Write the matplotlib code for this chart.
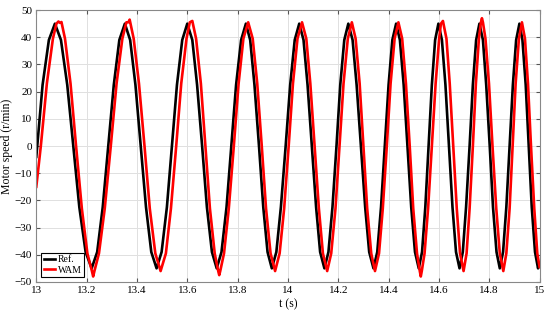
import matplotlib
matplotlib.use("Agg")
import matplotlib.pyplot as plt

# reference speed (black)
ref_t = [13.000, 13.025, 13.050, 13.074,
         13.098, 13.123, 13.147, 13.171, 13.196, 13.220,
         13.242, 13.264, 13.286, 13.308, 13.330, 13.352,
         13.373, 13.394, 13.415, 13.436, 13.457, 13.478,
         13.498, 13.519, 13.539, 13.559, 13.580, 13.600,
         13.620, 13.639, 13.659, 13.678, 13.698, 13.717,
         13.736, 13.756, 13.775, 13.794, 13.814, 13.833,
         13.850, 13.867, 13.885, 13.902, 13.919, 13.936,
         13.954, 13.972, 13.991, 14.009, 14.027, 14.045,
         14.062, 14.078, 14.095, 14.112, 14.128, 14.145,
         14.161, 14.177, 14.193, 14.208, 14.224, 14.240,
         14.257, 14.273, 14.290, 14.307, 14.323, 14.340,
         14.355, 14.370, 14.385, 14.400, 14.415, 14.430,
         14.445, 14.460, 14.475, 14.490, 14.505, 14.520,
         14.533, 14.546, 14.559, 14.572, 14.585, 14.598,
         14.612, 14.626, 14.640, 14.654, 14.668, 14.682,
         14.695, 14.708, 14.722, 14.735, 14.748, 14.761,
         14.775, 14.788, 14.802, 14.815, 14.829, 14.842,
         14.855, 14.868, 14.881, 14.894, 14.907, 14.920,
         14.932, 14.945, 14.957, 14.969, 14.982, 14.994, 15.000]
ref_v = [-4, 22.5, 39, 45,
         39, 22.5, 0, -22.5, -39, -45,
         -39, -22.5, 0, 22.5, 39, 45,
         39, 22.5, 0, -22.5, -39, -45,
         -39, -22.5, 0, 22.5, 39, 45,
         39, 22.5, 0, -22.5, -39, -45,
         -39, -22.5, 0, 22.5, 39, 45,
         39, 22.5, 0, -22.5, -39, -45,
         -39, -22.5, 0, 22.5, 39, 45,
         39, 22.5, 0, -22.5, -39, -45,
         -39, -22.5, 0, 22.5, 39, 45,
         39, 22.5, 0, -22.5, -39, -45,
         -39, -22.5, 0, 22.5, 39, 45,
         39, 22.5, 0, -22.5, -39, -45,
         -39, -22.5, 0, 22.5, 39, 45,
         39, 22.5, 0, -22.5, -39, -45,
         -39, -22.5, 0, 22.5, 39, 45,
         39, 22.5, 0, -22.5, -39, -45,
         -39, -22.5, 0, 22.5, 39, 45,
         39, 22.5, 0, -22.5, -39, -45, -43.5]

# WAM measured speed (red)
wam_t = [13.000, 13.018, 13.042, 13.066, 13.080, 13.088, 13.094, 13.100,
         13.114, 13.136, 13.158, 13.181, 13.203, 13.221, 13.226, 13.231,
         13.249, 13.272, 13.296, 13.319, 13.342, 13.358, 13.366, 13.371,
         13.387, 13.408, 13.430, 13.451, 13.473, 13.494,
         13.515, 13.535, 13.556, 13.576, 13.597, 13.610, 13.620,
         13.635, 13.654, 13.672, 13.690, 13.709, 13.723, 13.727, 13.731,
         13.746, 13.765, 13.785, 13.804, 13.823, 13.842,
         13.860, 13.878, 13.896, 13.913, 13.931, 13.949,
         13.967, 13.985, 14.003, 14.020, 14.038, 14.056,
         14.073, 14.089, 14.106, 14.123, 14.139, 14.156,
         14.172, 14.189, 14.205, 14.221, 14.238, 14.254,
         14.269, 14.285, 14.300, 14.315, 14.331, 14.346,
         14.362, 14.377, 14.393, 14.408, 14.424, 14.439,
         14.454, 14.469, 14.484, 14.498, 14.513, 14.524, 14.528, 14.532,
         14.543, 14.557, 14.572, 14.587, 14.601, 14.608, 14.616,
         14.630, 14.643, 14.657, 14.671, 14.684, 14.698,
         14.710, 14.722, 14.735, 14.747, 14.759, 14.767, 14.771, 14.775,
         14.785, 14.799, 14.813, 14.828, 14.842, 14.856,
         14.868, 14.881, 14.893, 14.905, 14.918, 14.930,
         14.942, 14.954, 14.966, 14.979, 14.991, 15.000]
wam_v = [-15, 0, 23, 39.5, 45, 45.8, 45.3, 45.6,
         39.5, 23, 0, -23, -39.5, -46, -48, -46,
         -39.5, -23, 0, 23, 39.5, 45.5, 45.5, 46.5,
         39.5, 23, 0, -23, -39.5, -46,
         -39.5, -23, 0, 23, 39.5, 45.5, 46,
         39.5, 23, 0, -23, -39.5, -46, -47.5, -46,
         -39.5, -23, 0, 23, 39.5, 45.5,
         39.5, 23, 0, -23, -39.5, -46,
         -39.5, -23, 0, 23, 39.5, 45.5,
         39.5, 23, 0, -23, -39.5, -46,
         -39.5, -23, 0, 23, 39.5, 45.5,
         39.5, 23, 0, -23, -39.5, -46,
         -39.5, -23, 0, 23, 39.5, 45.5,
         39.5, 23, 0, -23, -39.5, -46, -48, -46,
         -39.5, -23, 0, 23, 39.5, 45, 46,
         39.5, 23, 0, -23, -39.5, -46,
         -39.5, -23, 0, 23, 39.5, 45.5, 47, 45.5,
         39.5, 23, 0, -23, -39.5, -46,
         -39.5, -23, 0, 23, 39.5, 45.5,
         39.5, 23, 0, -23, -39.5, -44.5]

x_ticks = [13, 13.2, 13.4, 13.6, 13.8, 14, 14.2, 14.4, 14.6, 14.8, 15]
x_labels = ["13", "13.2", "13.4", "13.6", "13.8", "14", "14.2", "14.4", "14.6", "14.8", "15"]
y_ticks = list(range(-50, 51, 10))

plt.rcParams['font.family'] = ['Liberation Serif', 'DejaVu Serif']

fig = plt.figure(figsize=(5.5, 3.15), dpi=100)
ax = fig.add_axes([0.066, 0.105, 0.915, 0.863])

ax.plot(ref_t, ref_v, color='black', linewidth=1.9, label='Ref.')
ax.plot(wam_t, wam_v, color='#ff0000', linewidth=1.9, label='WAM')

ax.set_xlim(13, 15)
ax.set_ylim(-50, 50)
ax.set_xticks(x_ticks)
ax.set_xticklabels(x_labels)
ax.set_yticks(y_ticks)
ax.grid(True, color='#e0e0e0', linewidth=0.7)
ax.set_axisbelow(True)
ax.tick_params(direction='in', top=True, right=True, labelsize=8, length=3,
               color='#555555', pad=3)
for s in ax.spines.values():
    s.set_color('#888888')
    s.set_linewidth(0.8)

ax.set_xlabel("t (s)", fontsize=8.5, labelpad=2)
ax.set_ylabel("Motor speed (r/min)", fontsize=8.5, labelpad=1)

leg = ax.legend(loc='lower left', fontsize=7, handlelength=1.2, handletextpad=0.3,
                borderpad=0.25, labelspacing=0.15, fancybox=False, framealpha=1,
                borderaxespad=0.5)
leg.get_frame().set_edgecolor('black')
leg.get_frame().set_linewidth(0.8)

fig.savefig("out.png", dpi=100)
